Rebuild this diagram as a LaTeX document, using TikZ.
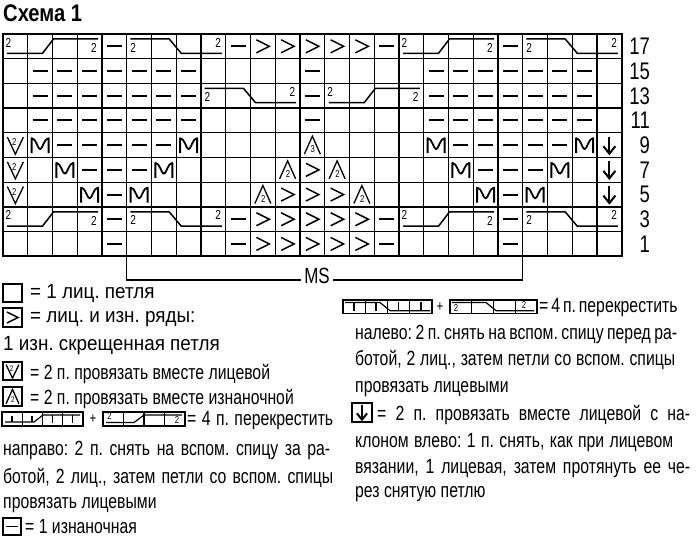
\documentclass[tikz,border=0pt]{standalone}
\usepackage{fontspec}
\setmainfont{Liberation Sans}
\newfontfamily\fC{Liberation Sans}[FakeStretch=0.77]
\newfontfamily\fW{Liberation Sans}[FakeStretch=0.92]
\newfontfamily\fT{Liberation Sans}[FakeStretch=0.84]
\newcommand\szL{\fontsize{20.5}{21}\selectfont}
\newcommand\XC[1]{(3+24.75*(#1-0.5))}
\newcommand\YC[1]{(34+24.7*(#1+0.5))}
\newcommand\XL[1]{(3+24.75*(#1-1))}
\newcommand\YT[1]{(34+24.7*#1)}
\tikzset{
  gl/.style={line width=1.3pt},
  glo/.style={line width=1.6pt},
  gls/.style={line width=1.1pt},
  cab/.style={line width=1.5pt,line join=round},
  cabs/.style={line width=1.2pt,line join=round},
  dig/.style={inner sep=0pt,font=\fC\fontsize{13}{13}\selectfont},
  digs/.style={inner sep=0pt,font=\fC\fontsize{10}{10}\selectfont},
  txt/.style={anchor=base west,inner sep=0pt,font=\fC\szL\frenchspacing},
  txtw/.style={anchor=base west,inner sep=0pt,font=\fW\szL\frenchspacing},
  rowlab/.style={anchor=east,inner sep=0pt,font=\fC\fontsize{24}{24}\selectfont},
  kdash/.pic={\draw[line width=2pt] (-7.5,0) -- (7.5,0);},
  kgt/.pic={\draw[line width=1.5pt,line join=miter] (-6.5,-6.5) -- (6.5,0) -- (-6.5,6.5);},
  kM/.pic={\draw[line width=1.8pt,line join=round] (-8.5,8) -- (-8.5,-7) .. controls (-4,-7) and (-2.5,4) .. (0,4) .. controls (2.5,4) and (4,-7) .. (8.5,-7) -- (8.5,8);},
  kV/.pic={\draw[line width=1.3pt,line join=miter] (-8,-8) -- (0,9) -- (8,-8); \node[digs] at (-1,-3) {2};},
  kA/.pic={\draw[line width=1.3pt,line join=miter] (-8,9) -- (0,-9) -- (8,9); \node[digs] at (0.5,4) {#1};},
  karrow/.pic={\draw[line width=2pt] (0,-8.5) -- (0,8); \draw[line width=2pt,line join=miter] (-6,1) -- (0,8.5) -- (6,1);},
  cableL/.pic={\draw[cab] (4,19.3) -- (39.5,19.3) -- (50.5,5) -- (95,5);
    \node[dig] at (5.5,8.5) {2}; \node[dig] at (91,14) {2};},
  cableR/.pic={\draw[cab] (3.5,5) -- (42.5,5) -- (54.5,19.3) -- (95,19.3);
    \node[dig] at (6.5,13.5) {2}; \node[dig] at (91.5,8.5) {2};},
}
\begin{document}
\begin{tikzpicture}[x=1pt,y=-1pt]
\useasboundingbox (0,0) rectangle (699,537);
% title
\node[anchor=base west,inner sep=0pt,font=\fT\bfseries\fontsize{24}{24}\selectfont] (title) at (3,22) {Схема 1};
% grid
\foreach \i in {1,...,24} \draw[gl] ({3+24.75*\i},34) -- ({3+24.75*\i},256.3);
\foreach \j in {1,...,8} \draw[gl] (3,{34+24.7*\j}) -- (621.75,{34+24.7*\j});
\draw[glo] (3,34) rectangle (621.75,256.3);
% row labels
\foreach \k/\n in {0/17,1/15,2/13,3/11,4/9,5/7,6/5,7/3,8/1}
  \node[rowlab] (row\n) at (650,{\YC{\k}}) {\n};
% rows 17 and 3
\foreach \k in {0,7}{
  \pic at ({\XL{1}},{\YT{\k}}) {cableL};
  \pic at ({\XL{6}},{\YT{\k}}) {cableR};
  \pic at ({\XL{17}},{\YT{\k}}) {cableL};
  \pic at ({\XL{22}},{\YT{\k}}) {cableR};
  \foreach \c in {5,10,16,21} \pic at ({\XC{\c}},{\YC{\k}}) {kdash};
  \foreach \c in {11,...,15} \pic at ({\XC{\c}},{\YC{\k}}) {kgt};
}
% rows 15, 13, 11
\foreach \k in {1,2,3}{
  \foreach \c in {2,...,8,13,18,19,...,24} \pic at ({\XC{\c}},{\YC{\k}}) {kdash};
}
\pic at ({\XL{9}},{\YT{2}}) {cableR};
\pic at ({\XL{14}},{\YT{2}}) {cableL};
% row 9
\pic at ({\XC{1}},{\YC{4}}) {kV};
\foreach \c in {2,8,18,24} \pic at ({\XC{\c}},{\YC{4}}) {kM};
\foreach \c in {3,...,7,19,20,...,23} \pic at ({\XC{\c}},{\YC{4}}) {kdash};
\pic at ({\XC{13}},{\YC{4}}) {kA=3};
\pic at ({\XC{25}},{\YC{4}}) {karrow};
% row 7
\pic at ({\XC{1}},{\YC{5}}) {kV};
\foreach \c in {3,7,19,23} \pic at ({\XC{\c}},{\YC{5}}) {kM};
\foreach \c in {4,5,6,20,21,22} \pic at ({\XC{\c}},{\YC{5}}) {kdash};
\pic at ({\XC{12}},{\YC{5}}) {kA=2};
\pic at ({\XC{13}},{\YC{5}}) {kgt};
\pic at ({\XC{14}},{\YC{5}}) {kA=2};
\pic at ({\XC{25}},{\YC{5}}) {karrow};
% row 5
\pic at ({\XC{1}},{\YC{6}}) {kV};
\foreach \c in {4,6,20,22} \pic at ({\XC{\c}},{\YC{6}}) {kM};
\foreach \c in {5,21} \pic at ({\XC{\c}},{\YC{6}}) {kdash};
\pic at ({\XC{11}},{\YC{6}}) {kA=2};
\foreach \c in {12,13,14} \pic at ({\XC{\c}},{\YC{6}}) {kgt};
\pic at ({\XC{15}},{\YC{6}}) {kA=2};
\pic at ({\XC{25}},{\YC{6}}) {karrow};
% row 1
\foreach \c in {5,10,16,21} \pic at ({\XC{\c}},{\YC{8}}) {kdash};
\foreach \c in {11,...,15} \pic at ({\XC{\c}},{\YC{8}}) {kgt};
% MS bracket
\coordinate (msa) at (126.75,256.3);
\coordinate (msb) at (522.75,256.3);
\draw[gl] (msa) -- (126.75,280) -- (522.75,280) -- (msb);
\node[fill=white,inner sep=3.5pt,font=\fC\fontsize{22}{22}\selectfont] (ms) at (317,275.5) {MS};
% ---------- legend left ----------
\draw[gls] (3,284) rectangle (22,302);
\node[txtw] (l1) at (30,299) {= 1 лиц. петля};
\draw[gls] (3,308) rectangle (22,327);
\pic[scale=0.85] at (12.5,317.5) {kgt};
\node[txtw] (l2) at (30,323) {= лиц. и изн. ряды:};
\node[txtw] (l3) at (3,351) {1 изн. скрещенная петля};
\draw[gls] (3,362) rectangle (22,380);
\pic[scale=0.8,transform shape] at (12.5,371) {kV};
\node[txt] (l4) at (30,379) {= 2 п. провязать вместе лицевой};
\draw[gls] (3,387) rectangle (22,406);
\pic[scale=0.8,transform shape] at (12.5,396.5) {kA=2};
\node[txt] (l5) at (30,404) {= 2 п. провязать вместе изнаночной};
% left cable legend
\draw[gls] (2,412) rectangle (83,426);
\foreach \x in {22.25,42.5,62.75} \draw[gls] (\x,412) -- (\x,426);
\draw[cabs] (5,422) -- (34,422) -- (43,415) -- (80,415);
\foreach \x in {12,32} \draw[cabs] (\x,416) -- (\x,422);
\foreach \x in {52.5,72.5} \draw[cabs] (\x,415) -- (\x,422.5);
\node[inner sep=0pt,font=\fC\fontsize{15}{15}\selectfont] (lplus) at (93,419) {+};
\draw[gls] (103,412) rectangle (185,426);
\foreach \x in {123.5,144,164.5} \draw[gls] (\x,412) -- (\x,426);
\draw[cabs] (106,422.5) -- (134,422.5) -- (144,415) -- (182,415);
\node[digs] at (109.5,416.5) {2};
\node[digs] at (177,420.5) {2};
\node[txt] (l6) at (187,425) {\makebox[146pt][s]{= 4 п. перекрестить}};
\node[txt] (l7) at (3,455) {\makebox[327pt][s]{направо: 2 п. снять на вспом. спицу за ра-}};
\node[txt] (l8) at (3,483) {\makebox[330pt][s]{ботой, 2 лиц., затем петли со вспом. спицы}};
\node[txt] (l9) at (3,508) {провязать лицевыми};
\draw[gls] (3,518) rectangle (21,535);
\draw[line width=1.7pt] (6,526.5) -- (18,526.5);
\node[txt] (l10) at (25,533) {= 1 изнаночная};
% ---------- legend right ----------
\draw[gls] (343,300) rectangle (432,313.3);
\foreach \x in {365.25,387.5,409.75} \draw[gls] (\x,300) -- (\x,313.3);
\draw[cabs] (345,302.5) -- (380,302.5) -- (390,310.7) -- (430,310.7);
\foreach \x in {354,376,398.6,421} \draw[cabs] (\x,302.5) -- (\x,310.7);
\node[inner sep=0pt,font=\fC\fontsize{15}{15}\selectfont] (rplus) at (440,307) {+};
\draw[gls] (450,300) rectangle (537,313.3);
\foreach \x in {471.75,493.5,515.25} \draw[gls] (\x,300) -- (\x,313.3);
\draw[cabs] (452,302.5) -- (486,302.5) -- (496,310.7) -- (534,310.7);
\node[digs] at (456,308) {2};
\node[digs] at (524,305.5) {2};
\node[txt] (r1) at (539,313) {\makebox[138pt][s]{= 4 п. перекрестить}};
\node[txt] (r2) at (355,340) {\makebox[322pt][s]{налево: 2 п. снять на вспом. спицу перед ра-}};
\node[txt] (r3) at (355,366) {\makebox[320pt][s]{ботой, 2 лиц., затем петли со вспом. спицы}};
\node[txt] (r4) at (355,392) {провязать лицевыми};
\draw[gls] (352,403) rectangle (372,422);
\pic[scale=0.85] at (362,412.5) {karrow};
\node[txt] (r5) at (377,420) {\makebox[313pt][s]{= 2 п. провязать вместе лицевой с на-}};
\node[txt] (r6) at (355,447) {\makebox[318pt][s]{клоном влево: 1 п. снять, как при лицевом}};
\node[txt] (r7) at (355,473) {\makebox[335pt][s]{вязании, 1 лицевая, затем протянуть ее че-}};
\node[txt] (r8) at (355,497) {рез снятую петлю};
\end{tikzpicture}
\end{document}
